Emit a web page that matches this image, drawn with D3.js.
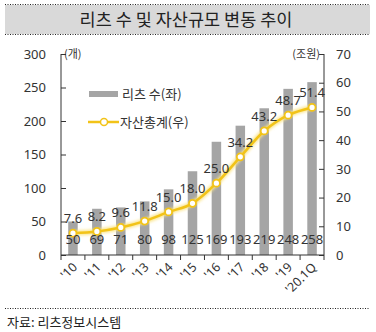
<!DOCTYPE html>
<html><head><meta charset="utf-8">
<script src="https://cdn.jsdelivr.net/npm/d3@7"></script>
<style>
body{margin:0;background:#fff;}
svg text{font-family:"Noto Sans CJK KR","Noto Sans",sans-serif;fill:#333;}
</style></head>
<body><svg id="c" width="376" height="332"></svg>
<script>
const categories = ["'10","'11","'12","'13","'14","'15","'16","'17","'18","'19","'20.1Q"];
const reitCounts = [50,69,71,80,98,125,169,193,219,248,258];
const assetTotals = [7.6,8.2,9.6,11.8,15.0,18.0,25.0,34.2,43.2,48.7,51.4];
const leftTicks = [0,50,100,150,200,250,300];
const rightTicks = [0,10,20,30,40,50,60,70];

const svg = d3.select("#c");
const L=61, R=324, T=54, B=255;
const xb = d3.scaleBand().domain(categories).range([L,R]);
const yL = d3.scaleLinear().domain([0,300]).range([B,T]);
const yR = d3.scaleLinear().domain([0,70]).range([B,T]);

// title
svg.append("rect").attr("x",5).attr("y",5).attr("width",365).attr("height",29).attr("fill","#D9D9D9");
[4,34].forEach(y=>svg.append("line").attr("x1",5).attr("x2",370).attr("y1",y+0.5).attr("y2",y+0.5)
  .attr("stroke","#222").attr("stroke-dasharray","1,1.5"));
svg.append("text").attr("x",186).attr("y",26).attr("text-anchor","middle").attr("font-size",17.5).style("fill","#222")
  .text("리츠 수 및 자산규모 변동 추이");

// bars
svg.selectAll(".bar").data(reitCounts).enter().append("rect")
  .attr("x",(d,i)=>xb(categories[i])+xb.bandwidth()/2-4.75).attr("width",9.5)
  .attr("y",d=>yL(d)).attr("height",d=>B-yL(d)).attr("fill","#A5A5A5");

// axes
const gL = svg.append("g").attr("transform",`translate(${L},0)`)
  .call(d3.axisLeft(yL).tickValues(leftTicks).tickSize(5).tickPadding(10));
const gR = svg.append("g").attr("transform",`translate(${R},0)`)
  .call(d3.axisRight(yR).tickValues(rightTicks).tickSize(5).tickPadding(7));
[gL,gR].forEach(g=>{g.select(".domain").attr("stroke","#333").attr("d",`M0,${T}V${B}`);
  g.selectAll(".tick line").attr("stroke","#333");
  g.selectAll("text").attr("font-size",13).style("font-family","'Noto Sans','DejaVu Sans',sans-serif").style("fill","#333");});
gL.selectAll(".tick line").attr("x1",0).attr("x2",5);
gR.selectAll(".tick line").attr("x1",0).attr("x2",-5);

// x axis
const gx = svg.append("g").attr("transform",`translate(0,${B})`);
gx.append("line").attr("x1",L).attr("x2",R).attr("stroke","#333");
xb.domain().concat(["end"]).forEach((c,i)=>{
  const xx = i<categories.length? xb(c) : R;
  gx.append("line").attr("x1",xx).attr("x2",xx).attr("y1",0).attr("y2",5).attr("stroke","#333");
});
gx.selectAll(".xl").data(categories).enter().append("text")
  .attr("transform",d=>`translate(${xb(d)+xb.bandwidth()/2+5},${13}) rotate(-45)`)
  .attr("text-anchor","end").attr("font-size",12.5).style("font-family","'Noto Sans','DejaVu Sans',sans-serif").text(d=>d);

// unit labels
svg.append("text").attr("x",64).attr("y",58).attr("font-size",11).text("(개)");
svg.append("text").attr("x",320).attr("y",58).attr("font-size",11).attr("text-anchor","end").text("(조원)");

// line
const defs = svg.append("defs");
const f = defs.append("filter").attr("id","glow").attr("x","-10%").attr("y","-20%").attr("width","120%").attr("height","140%");
f.append("feGaussianBlur").attr("stdDeviation",1.5);
const cx = i=>xb(categories[i])+xb.bandwidth()/2;
const line = d3.line().x((d,i)=>cx(i)).y(d=>yR(d)).curve(d3.curveMonotoneX);
svg.append("path").datum(assetTotals).attr("d",line).attr("fill","none").attr("stroke","#FBE58A").attr("stroke-width",5).attr("filter","url(#glow)");
svg.append("path").datum(assetTotals).attr("d",line).attr("fill","none").attr("stroke","#F2C318").attr("stroke-width",2.5);
svg.selectAll(".pt").data(assetTotals).enter().append("circle")
  .attr("cx",(d,i)=>cx(i)).attr("cy",d=>yR(d)).attr("r",3.5).attr("fill","#fff").attr("stroke","#F2C318").attr("stroke-width",1.8);

// labels
svg.selectAll(".vl").data(assetTotals).enter().append("text")
  .attr("x",(d,i)=>cx(i)).attr("y",d=>yR(d)-10).attr("text-anchor","middle").attr("font-size",13)
  .style("font-family","'Noto Sans','DejaVu Sans',sans-serif").text(d=>d.toFixed(1));
svg.selectAll(".cl").data(reitCounts).enter().append("text")
  .attr("x",(d,i)=>cx(i)).attr("y",244).attr("text-anchor","middle").attr("font-size",13)
  .style("font-family","'Noto Sans','DejaVu Sans',sans-serif").text(d=>d);

// legend
svg.append("rect").attr("x",89).attr("y",91).attr("width",29).attr("height",6).attr("fill","#A5A5A5");
svg.append("text").attr("x",122).attr("y",99).attr("font-size",13).text("리츠 수(좌)");
svg.append("line").attr("x1",88).attr("x2",119).attr("y1",122).attr("y2",122).attr("stroke","#F2C318").attr("stroke-width",2.5);
svg.append("circle").attr("cx",104).attr("cy",122).attr("r",3.5).attr("fill","#fff").attr("stroke","#F2C318").attr("stroke-width",1.5);
svg.append("text").attr("x",120).attr("y",127).attr("font-size",13).text("자산총계(우)");

// footer
svg.append("line").attr("x1",5).attr("x2",370).attr("y1",308.5).attr("y2",308.5).attr("stroke","#222").attr("stroke-dasharray","1,1.5");
svg.append("text").attr("x",7).attr("y",327).attr("font-size",13).style("fill","#222").text("자료: 리츠정보시스템");
</script></body></html>
